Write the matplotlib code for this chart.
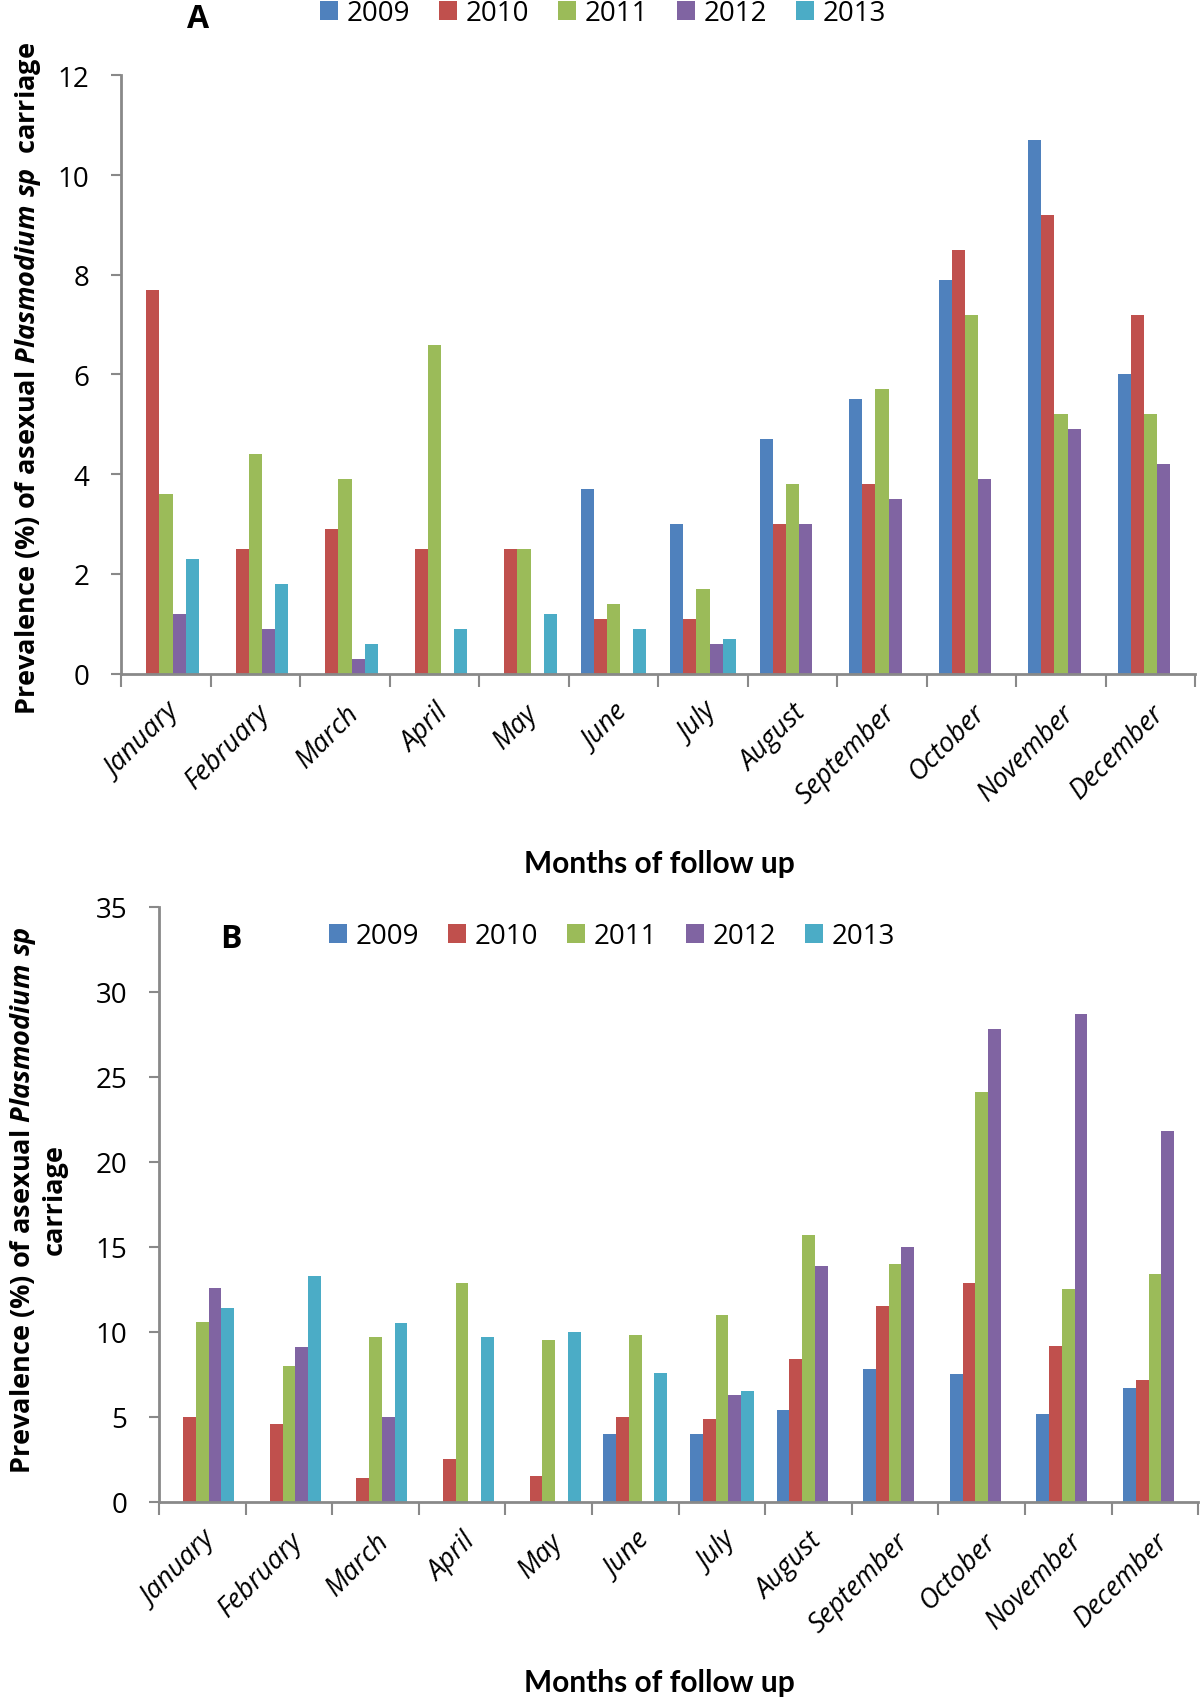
import numpy as np
import matplotlib
matplotlib.use("Agg")
import matplotlib.pyplot as plt
from matplotlib.patches import Patch

months = ["January", "February", "March", "April", "May", "June", "July",
          "August", "September", "October", "November", "December"]
years = ["2009", "2010", "2011", "2012", "2013"]
colors = ["#4F81BD", "#C0504D", "#9BBB59", "#8064A2", "#4BACC6"]

nan = np.nan
# Panel A values (per year, per month)
a_2009 = [nan, nan, nan, nan, nan, 3.7, 3.0, 4.7, 5.5, 7.9, 10.7, 6.0]
a_2010 = [7.7, 2.5, 2.9, 2.5, 2.5, 1.1, 1.1, 3.0, 3.8, 8.5, 9.2, 7.2]
a_2011 = [3.6, 4.4, 3.9, 6.6, 2.5, 1.4, 1.7, 3.8, 5.7, 7.2, 5.2, 5.2]
a_2012 = [1.2, 0.9, 0.3, nan, nan, nan, 0.6, 3.0, 3.5, 3.9, 4.9, 4.2]
a_2013 = [2.3, 1.8, 0.6, 0.9, 1.2, 0.9, 0.7, nan, nan, nan, nan, nan]

# Panel B values
b_2009 = [nan, nan, nan, nan, nan, 4.0, 4.0, 5.4, 7.8, 7.5, 5.2, 6.7]
b_2010 = [5.0, 4.6, 1.4, 2.5, 1.5, 5.0, 4.9, 8.4, 11.5, 12.9, 9.2, 7.2]
b_2011 = [10.6, 8.0, 9.7, 12.9, 9.5, 9.8, 11.0, 15.7, 14.0, 24.1, 12.5, 13.4]
b_2012 = [12.6, 9.1, 5.0, nan, nan, nan, 6.3, 13.9, 15.0, 27.8, 28.7, 21.8]
b_2013 = [11.4, 13.3, 10.5, 9.7, 10.0, 7.6, 6.5, nan, nan, nan, nan, nan]

panel_a = [a_2009, a_2010, a_2011, a_2012, a_2013]
panel_b = [b_2009, b_2010, b_2011, b_2012, b_2013]

plt.rcParams['font.family'] = ['Open Sans', 'DejaVu Sans']
plt.rcParams['mathtext.fontset'] = 'custom'
plt.rcParams['mathtext.it'] = 'Open Sans:italic:bold'
plt.rcParams['mathtext.rm'] = 'Open Sans:bold'

fig = plt.figure(figsize=(12, 16.99), dpi=100)
axA = fig.add_axes([0.101, 0.603, 0.895, 0.352])
axB = fig.add_axes([0.1325, 0.1154, 0.866, 0.3502])

gray = "#898989"
bw = 0.147
x = np.arange(len(months))


def draw(ax, series, ymax, step):
    for i, (vals, c) in enumerate(zip(series, colors)):
        ax.bar(x + (i - 2) * bw, vals, width=bw, color=c, edgecolor='none')
    ax.set_xlim(-0.5, len(months) - 0.5)
    ax.set_ylim(0, ymax)
    ax.set_yticks(np.arange(0, ymax + 0.1, step))
    ax.tick_params(axis='y', labelsize=20, length=7, width=1.5, color=gray, pad=16)
    ax.set_xticks(np.arange(-0.5, len(months)), minor=False)
    ax.set_xticklabels([])
    ax.set_xticks(x, minor=True)
    ax.set_xticklabels(months, minor=True, rotation=45, ha='right',
                       rotation_mode='anchor', fontsize=19.5, style='italic')
    ax.tick_params(axis='x', which='major', length=9, width=1.5, color=gray, direction='out')
    ax.tick_params(axis='x', which='minor', length=0, pad=18)
    for s in ['top', 'right']:
        ax.spines[s].set_visible(False)
    for s in ['left', 'bottom']:
        ax.spines[s].set_color(gray)
        ax.spines[s].set_linewidth(2)


draw(axA, panel_a, 12, 2)
draw(axB, panel_b, 35, 5)

handles = [Patch(facecolor=c, edgecolor='none') for c in colors]
legkw = dict(ncol=5, frameon=False, fontsize=20, handlelength=0.65, handleheight=0.65,
             handletextpad=0.3, columnspacing=1.05, borderaxespad=0, borderpad=0)
fig.legend(handles, years, loc='center left', bbox_to_anchor=(320 / 1200, 1 - 14 / 1699), **legkw)
fig.legend(handles, years, loc='center left', bbox_to_anchor=(329 / 1200, 1 - 937 / 1699), **legkw)

fig.text(198 / 1200, 1 - 20 / 1699, "A", fontsize=23, fontweight='bold', ha='center', va='center')
fig.text(231 / 1200, 1 - 940 / 1699, "B", fontsize=23, fontweight='bold', ha='center', va='center')

fig.text(659 / 1200, 1 - 864 / 1699, "Months of follow up", fontsize=21.5,
         fontweight='bold', ha='center', va='center', family='Lato')
fig.text(659 / 1200, 1 - 1683 / 1699, "Months of follow up", fontsize=21.5,
         fontweight='bold', ha='center', va='center', family='Lato')

fig.text(28 / 1200, 1 - 379 / 1699,
         r"Prevalence (%) of asexual $Plasmodium\ sp$  carriage",
         fontsize=19.5, fontweight='bold', rotation=90, ha='center', va='center')
fig.text(38 / 1200, 1 - 1200 / 1699,
         "Prevalence (%) of asexual $Plasmodium\\ sp$\ncarriage",
         fontsize=19.5, fontweight='bold', rotation=90, ha='center', va='center',
         multialignment='center', linespacing=1.2)

fig.savefig("out.png", dpi=100)
